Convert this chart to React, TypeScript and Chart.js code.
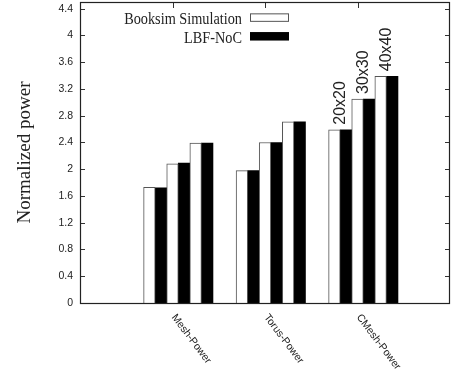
import React, { useEffect, useRef } from "react";
import { Chart, registerables } from "chart.js";

Chart.register(...registerables);

const categories = ["Mesh-Power", "Torus-Power", "CMesh-Power"];
const sizes = ["20x20", "30x30", "40x40"];
const booksimValues = [1.73, 2.08, 2.39, 1.98, 2.4, 2.71, 2.59, 3.05, 3.39];
const lbfValues = [1.72, 2.09, 2.39, 1.98, 2.4, 2.71, 2.59, 3.05, 3.39];
const yTickValues = [0, 0.4, 0.8, 1.2, 1.6, 2, 2.4, 2.8, 3.2, 3.6, 4, 4.4];
const seriesNames = ["Booksim Simulation", "LBF-NoC"];
const sizeLabelGroup = 2;

// cluster layout (gnuplot-like histogram offsets, in x-axis units)
const pairWidth = 0.25;
const clusterStart = -0.3125;
const xPos = (g: number, s: number) => g + 1 + clusterStart + pairWidth * (s + 0.5);

const toPoints = (vals: number[]) =>
  vals.map((v, i) => ({ x: xPos(Math.floor(i / sizes.length), i % sizes.length), y: v }));

const decor = {
  id: "decor",
  beforeDatasetsDraw(chart: any) {
    const { ctx, chartArea: a, scales } = chart;
    const x = scales.x;
    const y = scales.y;
    ctx.save();
    ctx.strokeStyle = "#333";
    ctx.lineWidth = 1;
    ctx.beginPath();
    for (const v of yTickValues) {
      const py = Math.round(y.getPixelForValue(v)) + 0.5;
      ctx.moveTo(a.left, py);
      ctx.lineTo(a.left + 5, py);
      ctx.moveTo(a.right, py);
      ctx.lineTo(a.right - 5, py);
    }
    categories.forEach((_, i) => {
      const px = Math.round(x.getPixelForValue(i + 1)) + 0.5;
      ctx.moveTo(px, a.top);
      ctx.lineTo(px, a.top + 6);
      ctx.moveTo(px, a.bottom);
      ctx.lineTo(px, a.bottom - 6);
    });
    ctx.stroke();
    ctx.restore();
  },
  afterDatasetsDraw(chart: any) {
    const { ctx, chartArea: a, scales } = chart;
    const x = scales.x;
    const y = scales.y;
    ctx.save();
    // frame
    ctx.strokeStyle = "#222";
    ctx.lineWidth = 1.2;
    ctx.strokeRect(a.left + 0.5, a.top + 0.5, a.right - a.left - 1, a.bottom - a.top);

    // x category labels, rotated clockwise
    ctx.fillStyle = "#222";
    ctx.font = "10.5px 'Liberation Sans', Arial, sans-serif";
    ctx.textAlign = "left";
    ctx.textBaseline = "middle";
    categories.forEach((c, i) => {
      const px = x.getPixelForValue(i + 1);
      ctx.save();
      ctx.translate(px + 1, a.bottom + 12.5);
      ctx.rotate((53 * Math.PI) / 180);
      ctx.fillText(c, 0, 0);
      ctx.restore();
    });

    // size labels above last group
    ctx.font = "16px 'Liberation Sans', Arial, sans-serif";
    sizes.forEach((s, si) => {
      const idx = sizeLabelGroup * sizes.length + si;
      const px = x.getPixelForValue(xPos(sizeLabelGroup, si));
      const top = y.getPixelForValue(Math.max(booksimValues[idx], lbfValues[idx]));
      ctx.save();
      ctx.translate(px, top - 5);
      ctx.rotate(-Math.PI / 2);
      ctx.textAlign = "left";
      ctx.textBaseline = "middle";
      ctx.fillText(s, 0, 0);
      ctx.restore();
    });

    // y title
    ctx.font = "19px 'Liberation Serif', 'Times New Roman', serif";
    ctx.save();
    ctx.translate(30, (a.top + a.bottom) / 2);
    ctx.rotate(-Math.PI / 2);
    ctx.textAlign = "center";
    ctx.textBaseline = "alphabetic";
    ctx.fillText("Normalized power", 0, 0);
    ctx.restore();

    // legend
    const boxRight = a.right - 161;
    const boxW = 39;
    const boxH = 8.5;
    const rows = [17.6, 36.3];
    ctx.font = "17px 'Liberation Serif', 'Times New Roman', serif";
    seriesNames.forEach((name, i) => {
      const cy = rows[i];
      if (i === 0) {
        ctx.fillStyle = "#fff";
        ctx.fillRect(boxRight - boxW, cy - boxH / 2, boxW, boxH);
        ctx.strokeStyle = "#555";
        ctx.lineWidth = 1;
        ctx.strokeRect(boxRight - boxW + 0.5, cy - boxH / 2 + 0.5, boxW - 1, boxH - 1);
      } else {
        ctx.fillStyle = "#000";
        ctx.fillRect(boxRight - boxW, cy - boxH / 2, boxW, boxH);
      }
      ctx.fillStyle = "#222";
      ctx.save();
      ctx.translate(boxRight - boxW - 8, cy + 6.2);
      ctx.scale(0.84, 1);
      ctx.textAlign = "right";
      ctx.textBaseline = "alphabetic";
      ctx.fillText(name, 0, 0);
      ctx.restore();
    });
    ctx.restore();
  },
};

export default function App() {
  const ref = useRef<HTMLCanvasElement | null>(null);
  useEffect(() => {
    if (!ref.current) return;
    const chart = new Chart(ref.current, {
      type: "bar",
      data: {
        datasets: [
          {
            label: seriesNames[0],
            data: toPoints(booksimValues) as any,
            backgroundColor: "#ffffff",
            borderColor: "#555555",
            borderWidth: 1,
            categoryPercentage: 1,
            barPercentage: 1,
          },
          {
            label: seriesNames[1],
            data: toPoints(lbfValues) as any,
            backgroundColor: "#000000",
            borderWidth: 0,
            categoryPercentage: 1,
            barPercentage: 1,
          },
        ],
      },
      options: {
        responsive: false,
        animation: false,
        events: [],
        layout: { padding: { top: 2, right: 6, left: 0, bottom: 0 } },
        plugins: { legend: { display: false }, tooltip: { enabled: false } },
        scales: {
          x: {
            type: "linear",
            min: 0,
            max: categories.length + 1,
            offset: false,
            ticks: { display: false, stepSize: 1 },
            grid: { display: false, drawTicks: false, offset: false },
            border: { display: false },
            afterFit: (s: any) => {
              s.height = 75;
              s.paddingLeft = 0;
              s.paddingRight = 0;
            },
          },
          y: {
            min: 0,
            max: 4.5,
            afterBuildTicks: (s: any) => {
              s.ticks = yTickValues.map((v) => ({ value: v }));
            },
            ticks: {
              padding: 7,
              color: "#222",
              font: { family: "'Liberation Sans', Arial, sans-serif", size: 10.5 },
              callback: (v: any) => String(Number(Number(v).toFixed(1))),
            },
            grid: { display: false, drawTicks: false },
            border: { display: false },
            afterFit: (s: any) => {
              s.width = 80;
              s.paddingTop = 0;
              s.paddingBottom = 0;
            },
          },
        },
      },
      plugins: [decor],
    });
    return () => chart.destroy();
  }, []);
  return (
    <div style={{ position: "fixed", left: 0, top: 0, width: 456, height: 378, background: "#fff" }}>
      <canvas ref={ref} width={456} height={378} />
    </div>
  );
}
